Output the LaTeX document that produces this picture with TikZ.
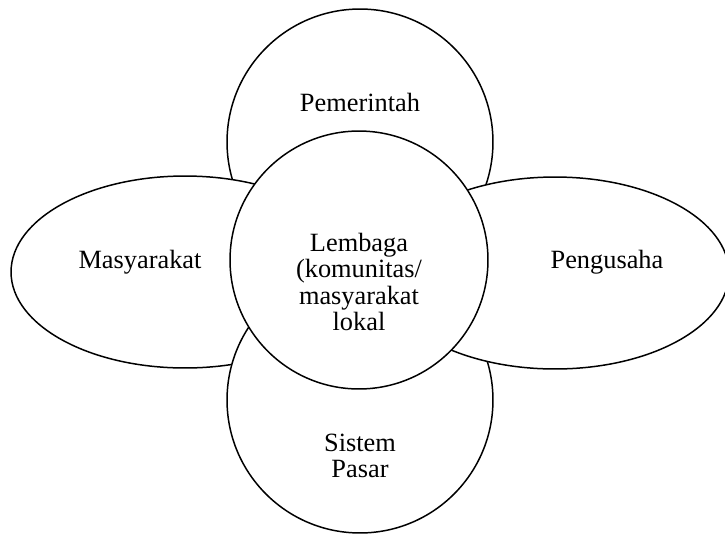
\documentclass[tikz,border=0pt]{standalone}
\usepackage{fontspec}
\setmainfont{Liberation Serif}
\usetikzlibrary{shapes.geometric}

\begin{document}
\begin{tikzpicture}[x=0.02cm, y=-0.02cm, line width=0.85pt]
  \useasboundingbox (0,0) rectangle (725,535);
  \tikzset{label/.style={font=\fontsize{15}{15.1}\selectfont, align=center}}

  % Top circle
  \node[circle, draw, fill=white, inner sep=0, minimum size=5.32cm] (top) at (360,142) {};
  \node[label] (pemerintah) at (360,102) {Pemerintah};

  % Left ellipse
  \node[ellipse, draw, fill=white, inner sep=0, minimum width=6.96cm, minimum height=3.84cm] (left) at (185,272) {};
  \node[label] (masyarakat) at (140,262) {Masyarakat};

  % Bottom circle
  \node[circle, draw, fill=white, inner sep=0, minimum size=5.32cm] (bottom) at (360,400) {};
  \node[label] (pasar) at (360,456) {Sistem\\Pasar};

  % Right ellipse
  \node[ellipse, draw, fill=white, inner sep=0, minimum width=6.96cm, minimum height=3.84cm] (right) at (555,273) {};
  \node[label] (pengusaha) at (607,262) {Pengusaha};

  % Centre circle
  \node[circle, draw, fill=white, inner sep=0, minimum size=5.16cm] (centre) at (359,260) {};
  \node[label] (lembaga) at (359,282) {Lembaga\\(komunitas/\\masyarakat\\lokal};
\end{tikzpicture}
\end{document}
